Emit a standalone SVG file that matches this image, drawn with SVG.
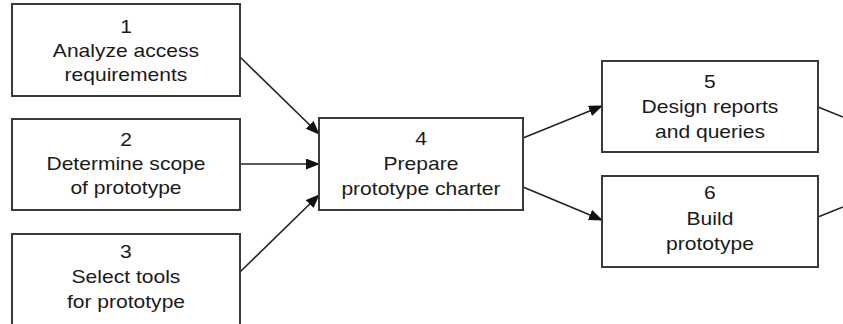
<svg xmlns="http://www.w3.org/2000/svg" width="843" height="324" viewBox="0 0 843 324">
<style>
.box{fill:#fff;stroke:#3a3a3a;stroke-width:2}
.t{font-family:"Liberation Sans",Arial,sans-serif;font-size:18px;fill:#1a1a1a;text-anchor:middle;transform-box:fill-box;transform-origin:center;transform:scaleX(1.17)}
.c{fill:none;stroke:#222;stroke-width:1.6}
</style>
<defs>
<marker id="ah" markerUnits="userSpaceOnUse" markerWidth="14" markerHeight="12" refX="13" refY="5.5" orient="auto">
<path d="M0,0 L14,5.5 L0,11 z" fill="#111"/>
</marker>
</defs>
<rect width="843" height="324" fill="#fff"/>
<g id="connectors">
<line class="c" x1="240" y1="57" x2="319" y2="134" marker-end="url(#ah)"/>
<line class="c" x1="240" y1="164" x2="319" y2="164" marker-end="url(#ah)"/>
<line class="c" x1="240" y1="272" x2="319" y2="195" marker-end="url(#ah)"/>
<line class="c" x1="523" y1="138" x2="602" y2="106" marker-end="url(#ah)"/>
<line class="c" x1="523" y1="187" x2="602" y2="220" marker-end="url(#ah)"/>
<line class="c" x1="818" y1="107" x2="843" y2="117"/>
<line class="c" x1="818" y1="217" x2="843" y2="207"/>
</g>
<g id="n1">
<rect class="box" x="12" y="4" width="228" height="92"/>
<text class="t" x="126" y="33">1</text>
<text class="t" x="126" y="57">Analyze access</text>
<text class="t" x="126" y="81">requirements</text>
</g>
<g id="n2">
<rect class="box" x="12" y="119" width="228" height="91"/>
<text class="t" x="126" y="146">2</text>
<text class="t" x="126" y="170">Determine scope</text>
<text class="t" x="126" y="194">of prototype</text>
</g>
<g id="n3">
<rect class="box" x="12" y="234" width="228" height="95"/>
<text class="t" x="126" y="258">3</text>
<text class="t" x="126" y="283">Select tools</text>
<text class="t" x="126" y="308">for prototype</text>
</g>
<g id="n4">
<rect class="box" x="319" y="118" width="204" height="92"/>
<text class="t" x="421" y="145">4</text>
<text class="t" x="421" y="170">Prepare</text>
<text class="t" x="421" y="195">prototype charter</text>
</g>
<g id="n5">
<rect class="box" x="602" y="61" width="216" height="91"/>
<text class="t" x="710" y="88">5</text>
<text class="t" x="710" y="113">Design reports</text>
<text class="t" x="710" y="138">and queries</text>
</g>
<g id="n6">
<rect class="box" x="602" y="176" width="216" height="91"/>
<text class="t" x="710" y="199">6</text>
<text class="t" x="710" y="225">Build</text>
<text class="t" x="710" y="250">prototype</text>
</g>
</svg>
